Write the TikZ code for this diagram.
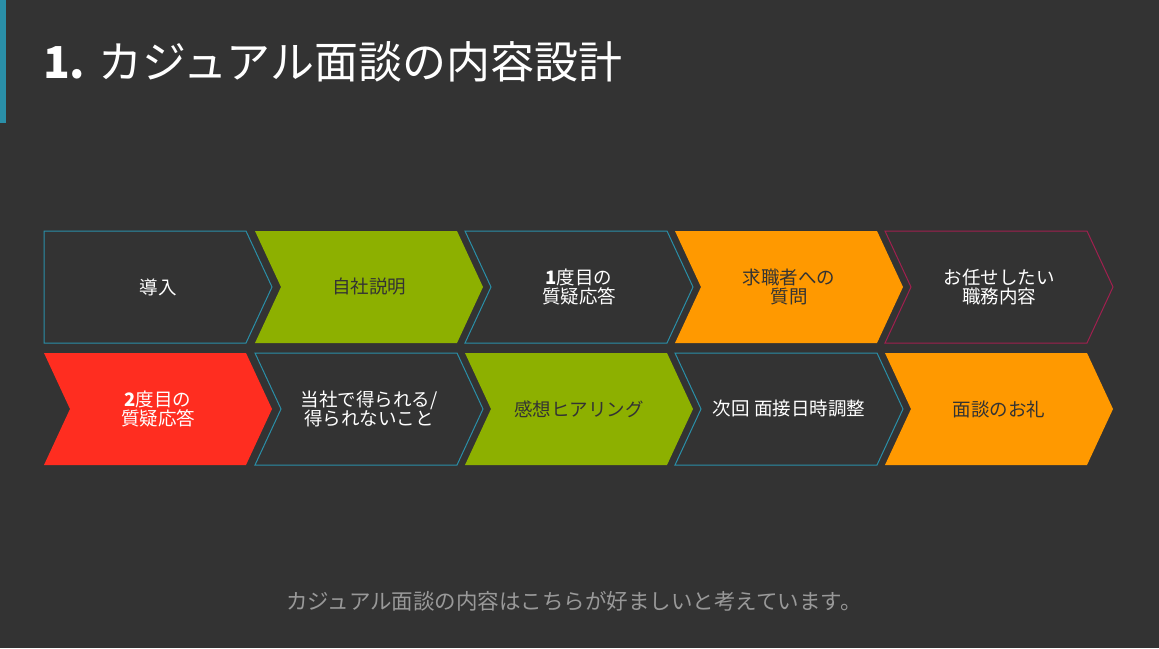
\documentclass[tikz,border=0pt]{standalone}
\usepackage{fontspec}
\setmainfont{Noto Sans CJK JP}
\definecolor{bg}{HTML}{333333}
\definecolor{gr}{HTML}{8DB000}
\definecolor{orx}{HTML}{FF9900}
\definecolor{rd}{HTML}{FF2D20}
\definecolor{tl}{HTML}{2A8FA8}
\definecolor{mg}{HTML}{A0204F}
\begin{document}
\begin{tikzpicture}[x=1pt,y=-1pt,
  lab/.style={font=\fontsize{18.5}{19}\selectfont,align=center,inner sep=0pt}]
\fill[bg] (0,0) rectangle (1159,648);
\useasboundingbox (0,0) rectangle (1159,648);
\fill[tl] (0,0) rectangle (6,123);
\node[anchor=base west,text=white,font=\fontsize{44}{48}\selectfont,inner sep=0pt] (title) at (43,78) {\textbf{1.} カジュアル面談の内容設計};
\newcommand{\chev}[4]{%
  \path[#3] (#1,#2) -- ++(202,0) -- ++(26,56) -- ++(-26,56) -- ++(-202,0) \ifnum#4=1 -- ++(26,-56)\fi -- cycle;}
\chev{44}{231}{draw=tl,line width=1pt}{0}
\chev{255}{231}{fill=gr}{1}
\chev{465}{231}{draw=tl,line width=1pt}{1}
\chev{675}{231}{fill=orx}{1}
\chev{885}{231}{draw=mg,line width=1pt}{1}
\chev{44}{353}{fill=rd}{1}
\chev{255}{353}{draw=tl,line width=1pt}{1}
\chev{465}{353}{fill=gr}{1}
\chev{675}{353}{draw=tl,line width=1pt}{1}
\chev{885}{353}{fill=orx}{1}
\node[lab,text=white] (a1) at (158,287) {導入};
\node[lab,text=bg] (a2) at (369,287) {自社説明};
\node[lab,text=white] (a3) at (579,287) {\textbf{1}度目の\\質疑応答};
\node[lab,text=bg] (a4) at (789,287) {求職者への\\質問};
\node[lab,text=white] (a5) at (999,287) {お任せしたい\\職務内容};
\node[lab,text=white] (b1) at (158,409) {\textbf{2}度目の\\質疑応答};
\node[lab,text=white] (b2) at (369,409) {当社で得られる/\\得られないこと};
\node[lab,text=bg] (b3) at (579,409) {感想ヒアリング};
\node[lab,text=white] (b4) at (789,409) {次回 面接日時調整};
\node[lab,text=bg] (b5) at (999,409) {面談のお礼};
\node[text=black!40!white,font=\fontsize{21.5}{24}\selectfont,inner sep=0pt] (foot) at (574,601) {カジュアル面談の内容はこちらが好ましいと考えています。};
\end{tikzpicture}
\end{document}
